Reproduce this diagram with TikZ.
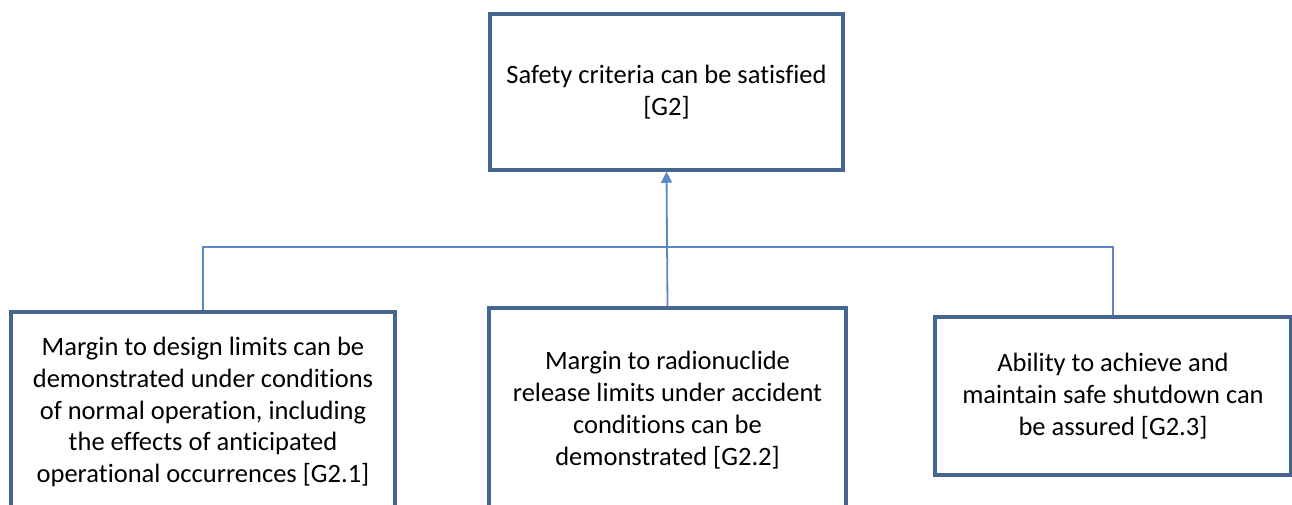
\documentclass[tikz,border=0pt]{standalone}
\usepackage{fontspec}
\setmainfont[Ligatures=CommonOff]{Carlito}
\usetikzlibrary{arrows.meta}
\definecolor{boxblue}{HTML}{44668F}
\definecolor{linkblue}{HTML}{5B87C5}
\begin{document}
\begin{tikzpicture}[x=1pt,y=-1pt,
    goal/.style={draw=boxblue, line width=3.5pt, fill=white, align=center,
        inner sep=0pt, font=\fontsize{26.5}{31.8}\selectfont},
    link/.style={draw=linkblue, line width=1.8pt}]
        \useasboundingbox (0,0) rectangle (1292,504);
        \node[goal, minimum width=353pt, minimum height=156pt] (g2) at (666.5,92) {Safety criteria can be satisfied\\{[G2]}};
        \node[goal, minimum width=384pt, minimum height=200pt] (g21) at (203,412) {Margin to design limits can be\\demonstrated under conditions\\of normal operation, including\\the effects of anticipated\\operational occurrences [G2.1]};
        \node[goal, minimum width=357pt, minimum height=204pt] (g22) at (667.5,410) {Margin to radionuclide\\release limits under accident\\conditions can be\\demonstrated [G2.2]};
        \node[goal, minimum width=356pt, minimum height=158pt] (g23) at (1113,396) {Ability to achieve and\\maintain safe shutdown can\\be assured [G2.3]};

        % bus line between the sub-goals
        \coordinate (bus) at (0,247);
        \path[link] (g21.north) |- (bus -| g23.north) -- (g23.north);
        \path[link, -{Triangle[width=11pt,length=11pt]}] (g22.north) -- (g2.south);
    \end{tikzpicture}
\end{document}
